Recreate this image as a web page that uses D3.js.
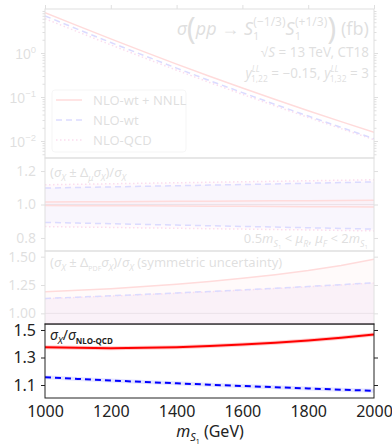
<!DOCTYPE html>
<html><head><meta charset="utf-8">
<script src="https://cdn.jsdelivr.net/npm/d3@7"></script>
<style>
body{margin:0;background:#fff}
svg{display:block;font-family:"Noto Sans",sans-serif}
</style></head><body><div id="chart"></div>
<script>
// masses (GeV)
const mass = [1000, 1100, 1200, 1300, 1400, 1500, 1600, 1700, 1800, 1900, 2000];
// cross sections (fb)
const sigmaNNLL = [8.29, 4.14, 2.09, 1.075, 0.560, 0.296, 0.160, 0.0878, 0.0488, 0.0276, 0.0157];
const sigmaWt = [6.97, 3.45, 1.73, 0.881, 0.453, 0.236, 0.126, 0.0676, 0.0369, 0.0204, 0.0113];
const sigmaQCD = [6.03, 3.02, 1.53, 0.785, 0.407, 0.214, 0.115, 0.0624, 0.0343, 0.0191, 0.0107];
// scale variation envelopes (relative)
const scaleNNLLUp = [1.015, 1.016, 1.017, 1.018, 1.019, 1.020, 1.021, 1.022, 1.023, 1.024, 1.025];
const scaleNNLLDn = [0.994, 0.993, 0.993, 0.992, 0.991, 0.990, 0.989, 0.988, 0.987, 0.986, 0.985];
const scaleWtUp = [1.098, 1.102, 1.105, 1.109, 1.112, 1.116, 1.119, 1.123, 1.127, 1.131, 1.135];
const scaleWtDn = [0.893, 0.889, 0.885, 0.881, 0.877, 0.873, 0.869, 0.865, 0.861, 0.857, 0.853];
const scaleQCDUp = [1.118, 1.121, 1.124, 1.127, 1.130, 1.133, 1.136, 1.139, 1.142, 1.145, 1.148];
const scaleQCDDn = [0.868, 0.865, 0.863, 0.860, 0.858, 0.855, 0.853, 0.850, 0.848, 0.845, 0.842];
// PDF uncertainty, upper edge (symmetric)
const pdfNNLLUp = [1.190, 1.203, 1.218, 1.236, 1.257, 1.281, 1.309, 1.341, 1.378, 1.422, 1.477];
const pdfWtUp = [1.132, 1.143, 1.155, 1.167, 1.180, 1.193, 1.207, 1.222, 1.237, 1.253, 1.270];
const pdfQCDUp = [1.129, 1.140, 1.152, 1.164, 1.177, 1.190, 1.204, 1.219, 1.234, 1.250, 1.267];
// ratios to NLO-QCD
const ratioNNLL = [1.374, 1.370, 1.368, 1.370, 1.375, 1.383, 1.394, 1.407, 1.423, 1.443, 1.468];
const ratioWt = [1.156, 1.144, 1.133, 1.122, 1.112, 1.102, 1.093, 1.084, 1.075, 1.066, 1.058];

const massTicks = [1000, 1200, 1400, 1600, 1800, 2000];
const sigmaTicks = [1e-2, 1e-1, 1];
const scaleTicks = [0.8, 1.0, 1.2];
const pdfTicks = [1.0, 1.25, 1.5];
const ratioTicks = [1.1, 1.3, 1.5];
const legendNames = ['NLO-wt + NNLL', 'NLO-wt', 'NLO-QCD'];

const RED = '#ff0000', BLUE = '#0000ff', MAG = '#dd1188';
const DASH = '6,4', DOT = '1.5,2.5';

const width = 392, height = 445;
const left = 45, right = 374;
const svg = d3.select('#chart').append('svg').attr('width', width).attr('height', height);

const x = d3.scaleLinear().domain([1000, 2000]).range([left, right]);

const y1 = d3.scaleLog().domain([Math.pow(10, -2.386), 10]).range([158, 9]);
const y2 = d3.scaleLinear().domain([0.722, 1.278]).range([251, 158]);
const y3 = d3.scaleLinear().domain([0.906, 1.55]).range([324, 251]);
const y4 = d3.scaleLinear().domain([1.0055, 1.5436]).range([398, 324]);

function rich(parent, px, py, size, anchor, parts) {
  const t = parent.append('text').attr('x', px).attr('y', py)
    .attr('font-size', size).attr('text-anchor', anchor).attr('fill', '#222');
  let cur = 0;
  parts.forEach(p => {
    let off = p.off != null ? p.off : p.sub ? size * 0.28 : p.sup ? -size * 0.42 : 0;
    const s = t.append('tspan').text(p.t).attr('dy', off - cur);
    cur = off;
    if (p.it) s.attr('font-style', 'italic');
    if (p.sub || p.sup) s.attr('font-size', size * 0.68);
    if (p.size) s.attr('font-size', p.size);
    if (p.dx) s.attr('dx', p.dx);
    if (p.bold) s.attr('font-weight', 'bold');
  });
  return t;
}

function clip(id, y) {
  svg.append('clipPath').attr('id', id).append('rect')
    .attr('x', left).attr('y', y.range()[1]).attr('width', right - left)
    .attr('height', y.range()[0] - y.range()[1]);
}

function frame(y) {
  svg.append('rect').attr('x', left).attr('y', y.range()[1])
    .attr('width', right - left).attr('height', y.range()[0] - y.range()[1])
    .attr('fill', 'none').attr('stroke', '#222').attr('stroke-width', 1);
}

function styleAxis(g, size) {
  g.select('.domain').remove();
  g.selectAll('.tick line').attr('stroke', '#222');
  g.selectAll('.tick text').attr('font-size', size).attr('fill', '#222')
    .attr('font-family', '"Noto Sans",sans-serif');
}

function yAxes(y, ticks, fmt, size) {
  const a = svg.append('g').attr('transform', `translate(${left},0)`)
    .call(d3.axisLeft(y).tickValues(ticks).tickFormat(fmt).tickSize(4).tickPadding(5));
  styleAxis(a, size);
  const b = svg.append('g').attr('transform', `translate(${right},0)`)
    .call(d3.axisRight(y).tickValues(ticks).tickFormat('').tickSize(4));
  styleAxis(b, size);
  return a;
}

const line = y => d3.line().x((d, i) => x(mass[i])).y(d => y(d));
const area = (y, lo, hi) => d3.area().x((d, i) => x(mass[i])).y0((d, i) => y(lo[i])).y1((d, i) => y(hi[i]));

function path(y, vals, color, dash, w, clipId) {
  const p = svg.append('path').datum(vals).attr('d', line(y))
    .attr('fill', 'none').attr('stroke', color).attr('stroke-width', w || 1.5)
    .attr('clip-path', `url(#${clipId})`);
  if (dash) p.attr('stroke-dasharray', dash);
  return p;
}

// ---------- panel 1: cross sections ----------
clip('c1', y1);
[[sigmaQCD, MAG, DOT], [sigmaWt, BLUE, DASH], [sigmaNNLL, RED, null]]
  .forEach(([v, c, d]) => path(y1, v, c, d, 1.5, 'c1'));

const minor1 = [];
[-3, -2, -1, 0].forEach(e => d3.range(2, 10).forEach(k => {
  const v = k * Math.pow(10, e);
  if (v > y1.domain()[0] && v < y1.domain()[1]) minor1.push(v);
}));
const ax1 = yAxes(y1, sigmaTicks, () => '', 14);
ax1.selectAll('.tick').each(function (d) {
  const e = Math.round(Math.log10(d));
  rich(d3.select(this), -9, 5, 14, 'end', [{ t: '10' }, { t: e === 0 ? '0' : '\u2212' + (-e), sup: true, size: 9.5 }]);
});
[[left, d3.axisLeft], [right, d3.axisRight]].forEach(([px, fn]) => {
  const m = svg.append('g').attr('transform', `translate(${px},0)`)
    .call(fn(y1).tickValues(minor1).tickFormat('').tickSize(2.5));
  styleAxis(m, 10);
});
const top1 = svg.append('g').attr('transform', `translate(0,${y1.range()[1]})`)
  .call(d3.axisTop(x).tickValues(massTicks).tickFormat('').tickSize(4));
styleAxis(top1, 10);
frame(y1);

rich(svg, 369, 35, 18, 'end', [
  { t: '\u03c3', it: true }, { t: '(', size: 30, off: 4 }, { t: 'pp', it: true },
  { t: ' \u2192 ' }, { t: 'S', it: true }, { t: '1', sub: true, off: 5, size: 11 },
  { t: '(\u22121/3)', sup: true, off: -9, dx: -6, size: 12 }, { t: 'S', it: true },
  { t: '1', sub: true, off: 5, size: 11 }, { t: '(+1/3)', sup: true, off: -9, dx: -6, size: 12 },
  { t: ')', size: 30, off: 4 }, { t: ' (fb)' }]);
rich(svg, 369, 57, 13.5, 'end', [{ t: '\u221a' }, { t: 'S', it: true }, { t: ' = 13 TeV, CT18' }]);
rich(svg, 369, 78, 13.5, 'end', [
  { t: 'y', it: true }, { t: 'LL', it: true, sup: true, off: -6.5, size: 8.5 }, { t: '1,22', sub: true, off: 4, dx: -9, size: 8.5 },
  { t: ' = \u22120.15, ' }, { t: 'y', it: true }, { t: 'LL', it: true, sup: true, off: -6.5, size: 8.5 },
  { t: '1,32', sub: true, off: 4, dx: -9, size: 8.5 }, { t: ' = 3' }]);

const leg = svg.append('g');
leg.append('rect').attr('x', 52).attr('y', 90).attr('width', 134).attr('height', 62)
  .attr('rx', 3).attr('fill', '#fff').attr('stroke', '#bbb');
[[RED, null], [BLUE, DASH], [MAG, DOT]].forEach(([c, d], i) => {
  const yy = 100 + i * 20;
  const l = leg.append('line').attr('x1', 56).attr('x2', 82).attr('y1', yy).attr('y2', yy)
    .attr('stroke', c).attr('stroke-width', 1.5);
  if (d) l.attr('stroke-dasharray', d);
  leg.append('text').attr('x', 93).attr('y', yy + 4.5).attr('font-size', 13)
    .attr('fill', '#222').text(legendNames[i]);
});

// ---------- panel 2: scale uncertainty ----------
clip('c2', y2);
svg.append('line').attr('x1', left).attr('x2', right).attr('y1', y2(1)).attr('y2', y2(1))
  .attr('stroke', '#555').attr('stroke-width', 1);
[[scaleQCDDn, scaleQCDUp, MAG], [scaleWtDn, scaleWtUp, BLUE], [scaleNNLLDn, scaleNNLLUp, RED]]
  .forEach(([lo, hi, c]) => {
    svg.append('path').datum(mass).attr('d', area(y2, lo, hi)).attr('fill', c)
      .attr('fill-opacity', 0.15).attr('clip-path', 'url(#c2)');
  });
[[scaleQCDUp, MAG, DOT], [scaleQCDDn, MAG, DOT], [scaleWtUp, BLUE, DASH], [scaleWtDn, BLUE, DASH],
 [scaleNNLLUp, RED, null], [scaleNNLLDn, RED, null]]
  .forEach(([v, c, d]) => path(y2, v, c, d, 1.5, 'c2'));
yAxes(y2, scaleTicks, d3.format('.1f'), 14);
frame(y2);
rich(svg, 50, 177, 13, 'start', [
  { t: '(' }, { t: '\u03c3', it: true }, { t: 'X', it: true, sub: true }, { t: ' \u00b1 \u0394' },
  { t: '\u03bc', it: true, sub: true }, { t: '\u03c3', it: true }, { t: 'X', it: true, sub: true },
  { t: ')/' }, { t: '\u03c3', it: true }, { t: 'X', it: true, sub: true }]);
rich(svg, 368, 243, 13, 'end', [
  { t: '0.5' }, { t: 'm', it: true }, { t: 'S', it: true, sub: true }, { t: '1', size: 6, off: 6 },
  { t: ' < ' }, { t: '\u03bc', it: true, off: 0 }, { t: 'R', it: true, sub: true }, { t: ', ', off: 0 },
  { t: '\u03bc', it: true }, { t: 'F', it: true, sub: true }, { t: ' < 2', off: 0 }, { t: 'm', it: true },
  { t: 'S', it: true, sub: true }, { t: '1', size: 6, off: 6 }]);

// ---------- panel 3: PDF uncertainty ----------
clip('c3', y3);
svg.append('line').attr('x1', left).attr('x2', right).attr('y1', y3(1)).attr('y2', y3(1))
  .attr('stroke', '#555').attr('stroke-width', 1);
[[pdfQCDUp, MAG], [pdfWtUp, BLUE], [pdfNNLLUp, RED]].forEach(([hi, c]) => {
  const lo = hi.map(v => 2 - v);
  svg.append('path').datum(mass).attr('d', area(y3, lo, hi)).attr('fill', c)
    .attr('fill-opacity', 0.15).attr('clip-path', 'url(#c3)');
});
[[pdfQCDUp, MAG, DOT], [pdfWtUp, BLUE, DASH], [pdfNNLLUp, RED, null]]
  .forEach(([v, c, d]) => path(y3, v, c, d, 1.5, 'c3'));
yAxes(y3, pdfTicks, d3.format('.2f'), 14);
frame(y3);
rich(svg, 50, 267, 13, 'start', [
  { t: '(' }, { t: '\u03c3', it: true }, { t: 'X', it: true, sub: true }, { t: ' \u00b1 \u0394' },
  { t: 'PDF', sub: true, size: 7 }, { t: '\u03c3', it: true }, { t: 'X', it: true, sub: true },
  { t: ')/' }, { t: '\u03c3', it: true }, { t: 'X', it: true, sub: true }, { t: ' (symmetric uncertainty)' }]);

// fade the upper three panels
svg.append('rect').attr('x', 0).attr('y', 0).attr('width', width).attr('height', 323.5)
  .attr('fill', '#fff').attr('opacity', 0.86);

// ---------- panel 4: ratio ----------
clip('c4', y4);
path(y4, ratioNNLL, RED, null, 4, 'c4').attr('stroke-opacity', 0.2);
path(y4, ratioWt, BLUE, null, 4, 'c4').attr('stroke-opacity', 0.1);
path(y4, ratioNNLL, RED, null, 2, 'c4');
path(y4, ratioWt, BLUE, DASH, 2, 'c4');
yAxes(y4, ratioTicks, d3.format('.1f'), 16);
const xAx = svg.append('g').attr('transform', `translate(0,${y4.range()[0]})`)
  .call(d3.axisBottom(x).tickValues(massTicks).tickFormat(d3.format('d')).tickSize(0).tickPadding(8));
styleAxis(xAx, 16);
frame(y4);
rich(svg, 50, 340, 14, 'start', [
  { t: '\u03c3', it: true }, { t: 'X', it: true, sub: true }, { t: '/', off: 0 }, { t: '\u03c3', it: true },
  { t: 'NLO-QCD', sub: true, size: 8, bold: true }]);
rich(svg, 210, 437, 16, 'middle', [
  { t: 'm', it: true }, { t: 'S', it: true, sub: true, size: 11, off: 4 }, { t: '1', size: 7, off: 7 },
  { t: ' (GeV)', off: 0 }]);
</script>
</body></html>
